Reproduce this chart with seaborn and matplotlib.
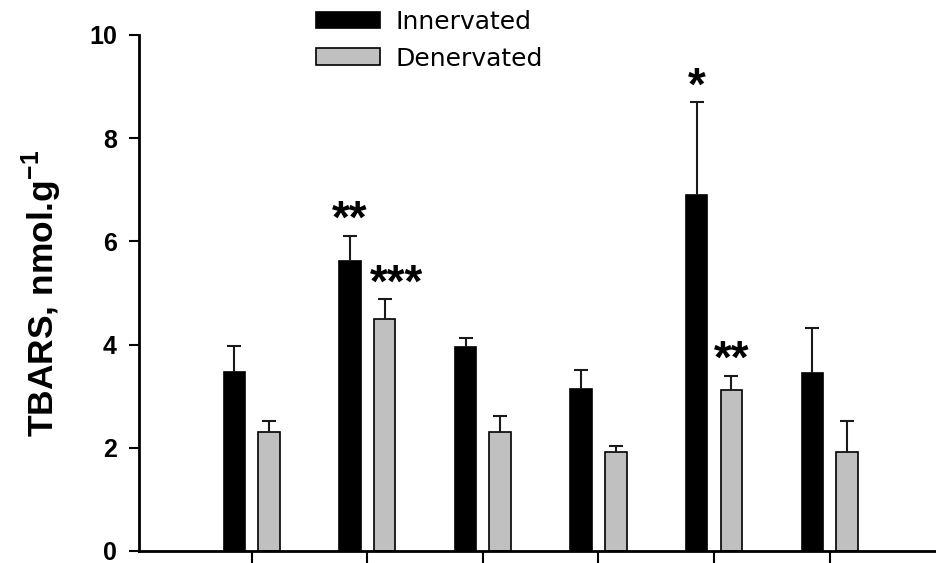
import numpy as np
import pandas as pd
import matplotlib
matplotlib.use('Agg')
import matplotlib.pyplot as plt
import seaborn as sns

# values (6 unlabelled groups)
groups = ['1', '2', '3', '4', '5', '6']
innervated = [3.47, 5.62, 3.95, 3.13, 6.89, 3.44]
innervated_err = [0.51, 0.49, 0.18, 0.38, 1.81, 0.89]
denervated = [2.31, 4.49, 2.31, 1.92, 3.12, 1.92]
denervated_err = [0.20, 0.39, 0.31, 0.11, 0.28, 0.59]

# significance marks: (group index, series, text)
stars = [(1, 'Innervated', '**'), (1, 'Denervated', '***'),
         (4, 'Innervated', '*'), (4, 'Denervated', '**')]

sns.set_style('ticks')
plt.rcParams['font.family'] = ['Liberation Sans', 'DejaVu Sans']
plt.rcParams['mathtext.fontset'] = 'custom'
plt.rcParams['mathtext.bf'] = 'Liberation Sans:bold'
plt.rcParams['mathtext.rm'] = 'Liberation Sans'
for key in ['text.color', 'axes.labelcolor', 'xtick.color', 'ytick.color', 'axes.edgecolor']:
    plt.rcParams[key] = 'black'

df = pd.DataFrame({
    'group': groups * 2,
    'condition': ['Innervated'] * len(groups) + ['Denervated'] * len(groups),
    'value': innervated + denervated,
})

fig = plt.figure(figsize=(9.36, 5.63), dpi=100)
ax = fig.add_axes([139 / 936, 12 / 563, 1 - 139 / 936, 516 / 563])

sns.barplot(data=df, x='group', y='value', hue='condition',
            palette={'Innervated': 'black', 'Denervated': '#c0c0c0'},
            width=0.6, gap=0.38, edgecolor='black', linewidth=1.2,
            errorbar=None, ax=ax)

errs = {'Innervated': innervated_err, 'Denervated': denervated_err}
centers = {}
for cont, cond in zip(ax.containers, ['Innervated', 'Denervated']):
    xs = np.array([b.get_x() + b.get_width() / 2 for b in cont])
    ys = np.array([b.get_height() for b in cont])
    e = np.array(errs[cond])
    centers[cond] = (xs, ys + e)
    res = ax.errorbar(xs, ys, yerr=[np.zeros_like(e), e], fmt='none',
                      ecolor='#1a1a1a', elinewidth=1.5, capsize=5.2,
                      capthick=1.5, zorder=1)
    res[1][0].set_visible(False)  # hide the lower caps

for gi, cond, txt in stars:
    xs, tops = centers[cond]
    dx = 0.1 if txt == '***' else 0.0
    ax.text(xs[gi] + dx, tops[gi] + 0.05, txt, ha='center', va='baseline',
            fontsize=33, fontweight='bold')

ax.set_ylim(0, 10)
ax.set_xlim(-0.975, 5.92)
ax.set_yticks([0, 2, 4, 6, 8, 10])
ax.set_xlabel('')
ax.set_ylabel(r'TBARS, nmol.g$^{\mathbf{-1}}$', fontsize=25.5, fontweight='bold')
ax.yaxis.set_label_coords(-0.094, 0.5)
ax.tick_params(axis='y', length=7, width=1.5, pad=9, labelsize=18)
ax.tick_params(axis='x', length=9, width=1.5, labelbottom=False)
for lab in ax.get_yticklabels():
    lab.set_fontweight('bold')
sns.despine(ax=ax)
for s in ['left', 'bottom']:
    ax.spines[s].set_linewidth(2)

handles, labels = ax.get_legend_handles_labels()
ax.legend(handles, labels, loc='upper left', bbox_to_anchor=(316 / 936, 1 - 10 / 563),
          bbox_transform=fig.transFigure, frameon=False,
          prop={'family': 'DejaVu Sans', 'size': 18},
          handlelength=2.56, handleheight=0.64, handletextpad=0.6,
          labelspacing=0.5, borderpad=0, borderaxespad=0)

fig.savefig('out.png', dpi=100)
